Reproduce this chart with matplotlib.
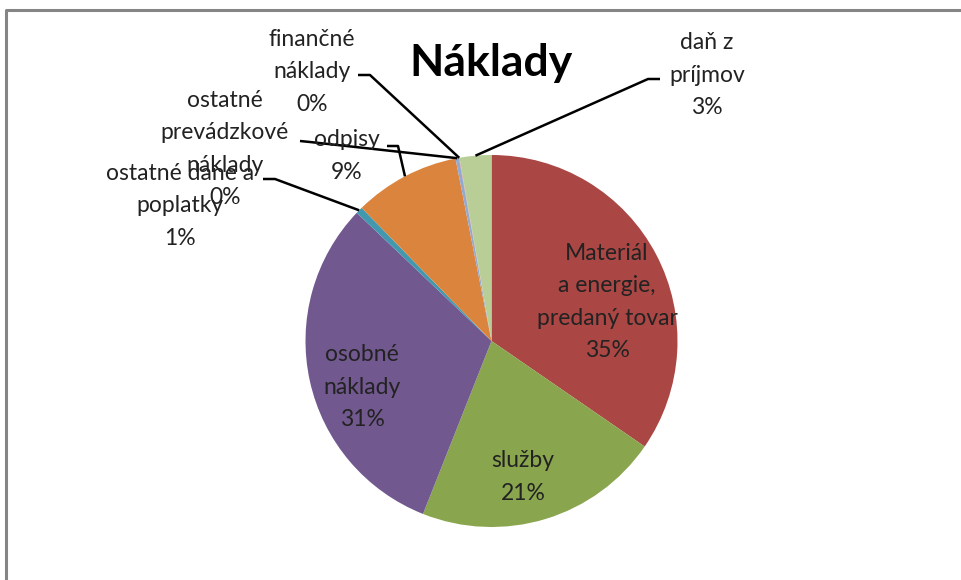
import matplotlib
matplotlib.use('Agg')
import numpy as np
import matplotlib.pyplot as plt
from matplotlib.lines import Line2D

plt.rcParams['font.family'] = ['Lato', 'DejaVu Sans']

# data (share of total costs, %)
categories = ['Materiál\na energie,\npredaný tovar', 'služby', 'osobné\nnáklady',
              'ostatné dane a\npoplatky', 'odpisy', 'ostatné\nprevádzkové\nnáklady',
              'finančné\nnáklady', 'daň z\npríjmov']
values = [34.6, 21.4, 31.1, 0.6, 9.2, 0.3, 0.05, 2.75]
colors = ['#AA4643', '#89A54E', '#71588F', '#4198AF', '#DB843D', '#93A9CF', '#D19392', '#B9CD96']
title = 'Náklady'

# layout (pixel coords, y measured from top)
W, H = 962, 580
center_px = (491.5, 341)
radius_px = 186
label_pos = [(607, 302), (523, 477), (362, 387), (180, 206),
             (347, 156), (225, 149), (312, 72), (707, 75)]
# leader line: start at label edge, then elbow; None = label inside the slice
leaders = [None, None, None,
           [(263, 179), (275, 179)],
           [(387, 146), (398, 146)],
           [(300, 141), (310, 142)],
           [(358, 75), (370, 75)],
           [(660, 79), (648, 79)]]

fig = plt.figure(figsize=(W / 100, H / 100), dpi=100)
ax = fig.add_axes([0, 0, 1, 1])

cx, cy = center_px[0], H - center_px[1]
wedges, _ = ax.pie(values, colors=colors, startangle=90, counterclock=False,
                   center=(cx, cy), radius=radius_px, frame=True,
                   wedgeprops=dict(linewidth=0))
ax.set_xlim(0, W)
ax.set_ylim(0, H)
ax.axis('off')

total = sum(values)
for i, (name, v) in enumerate(zip(categories, values)):
    pct = v / total * 100
    lx, ly = label_pos[i]
    ax.text(lx, H - ly, f'{name}\n{pct:.0f}%', ha='center', va='center',
            multialignment='center', fontsize=16.5, color='#222222', linespacing=1.65)
    if leaders[i] is not None:
        w = wedges[i]
        mid = np.deg2rad((w.theta1 + w.theta2) / 2)
        ex, ey = cx + radius_px * np.cos(mid), cy + radius_px * np.sin(mid)
        xs = [p[0] for p in leaders[i]] + [ex]
        ys = [H - p[1] for p in leaders[i]] + [ey]
        ax.plot(xs, ys, color='black', linewidth=1.8, solid_capstyle='butt')

ax.text(491, H - 63, title, ha='center', va='center', fontsize=32, fontweight='bold')

# chart frame (only the top and left edges are visible in the crop)
fig.add_artist(Line2D([6 / W, 6 / W, 1], [0, 1 - 10 / H, 1 - 10 / H],
                      transform=fig.transFigure, color='#858585', linewidth=2.2))

fig.savefig('out.png', dpi=100)
